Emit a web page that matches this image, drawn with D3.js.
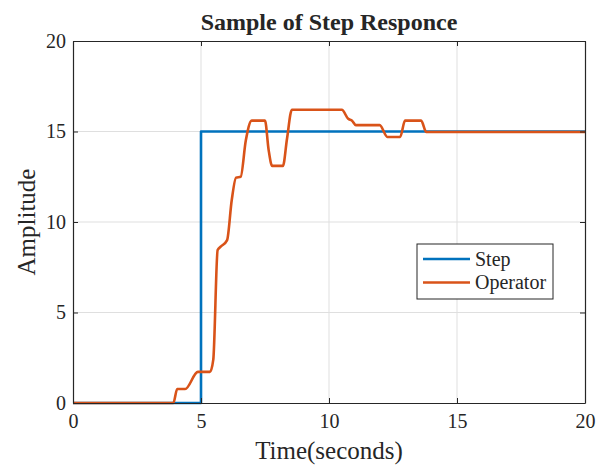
<!DOCTYPE html>
<html>
<head>
<meta charset="utf-8">
<script src="https://cdn.jsdelivr.net/npm/d3@7"></script>
<style>
  html, body { margin: 0; padding: 0; background: #fff; }
  svg { display: block; }
  text { font-family: "Liberation Serif", "Times New Roman", serif; fill: #262626; }
</style>
</head>
<body>
<svg id="chart" width="601" height="466"></svg>
<script>
// Step input
const stepTime = [0, 5, 5, 20];
const stepValue = [0, 0, 15, 15];

// Operator response
const opTime = [0, 3.92, 4.07, 4.38, 4.88, 5.35, 5.48, 5.65, 5.78, 6.02, 6.2, 6.37, 6.55, 6.75, 6.98, 7.5, 7.64, 7.78, 8.2, 8.36, 8.55, 10.5, 10.75, 10.9, 11.05, 11.98, 12.28, 12.78, 12.97, 13.6, 13.8, 20];
const opValue = [0, 0, 0.77, 0.77, 1.72, 1.72, 2.4, 8.45, 8.65, 9.0, 11.2, 12.45, 12.5, 14.5, 15.6, 15.6, 14.0, 13.1, 13.1, 14.6, 16.2, 16.2, 15.7, 15.6, 15.35, 15.35, 14.7, 14.7, 15.6, 15.6, 14.97, 14.97];

const xTicks = [0, 5, 10, 15, 20];
const yTicks = [0, 5, 10, 15, 20];
const seriesNames = ["Step", "Operator"];
const seriesColors = ["#0072BD", "#D95319"];

const svg = d3.select("#chart");
const m = { left: 73, right: 585, top: 41, bottom: 403 };

const x = d3.scaleLinear().domain([0, 20]).range([m.left, m.right]);
const y = d3.scaleLinear().domain([0, 20]).range([m.bottom, m.top]);

// grid
const grid = svg.append("g");
grid.selectAll(".gx").data(xTicks.slice(1, -1)).join("line")
  .attr("x1", d => x(d)).attr("x2", d => x(d))
  .attr("y1", m.top).attr("y2", m.bottom)
  .attr("stroke", "#dfdfdf").attr("stroke-width", 1);
grid.selectAll(".gy").data(yTicks.slice(1, -1)).join("line")
  .attr("y1", d => y(d)).attr("y2", d => y(d))
  .attr("x1", m.left).attr("x2", m.right)
  .attr("stroke", "#dfdfdf").attr("stroke-width", 1);

// series
const stepPts = stepTime.map((t, i) => [t, stepValue[i]]);
const opPts = opTime.map((t, i) => [t, opValue[i]]);

svg.append("path").datum(stepPts)
  .attr("d", d3.line().x(d => x(d[0])).y(d => y(d[1])))
  .attr("fill", "none").attr("stroke", seriesColors[0]).attr("stroke-width", 2.6)
  .attr("stroke-linejoin", "round");

svg.append("path").datum(opPts)
  .attr("d", d3.line().x(d => x(d[0])).y(d => y(d[1])).curve(d3.curveMonotoneX))
  .attr("fill", "none").attr("stroke", seriesColors[1]).attr("stroke-width", 2.6)
  .attr("stroke-linejoin", "round");

// axes box with inward ticks
const axisColor = "#262626";
const xAxisB = d3.axisBottom(x).tickValues(xTicks).tickSizeInner(-5).tickSizeOuter(0).tickPadding(11);
const xAxisT = d3.axisTop(x).tickValues(xTicks).tickSizeInner(-5).tickSizeOuter(0).tickFormat("");
const yAxisL = d3.axisLeft(y).tickValues(yTicks).tickSizeInner(-5).tickSizeOuter(0).tickPadding(7);
const yAxisR = d3.axisRight(y).tickValues(yTicks).tickSizeInner(-5).tickSizeOuter(0).tickFormat("");

function style(g) {
  g.selectAll("path").attr("stroke", axisColor).attr("stroke-width", 1.2);
  g.selectAll("line").attr("stroke", axisColor);
  g.selectAll("text").attr("font-family", "Liberation Serif").attr("font-size", 20).attr("fill", axisColor);
}
svg.append("g").attr("transform", `translate(0,${m.bottom})`).call(xAxisB).call(style);
svg.append("g").attr("transform", `translate(0,${m.top})`).call(xAxisT).call(style);
svg.append("g").attr("transform", `translate(${m.left},0)`).call(yAxisL).call(style);
svg.append("g").attr("transform", `translate(${m.right},0)`).call(yAxisR).call(style);

// title and labels
svg.append("text").attr("x", (m.left + m.right) / 2).attr("y", 30)
  .attr("text-anchor", "middle").attr("font-size", 24).attr("font-weight", "bold")
  .text("Sample of Step Responce");
svg.append("text").attr("x", (m.left + m.right) / 2).attr("y", 459)
  .attr("text-anchor", "middle").attr("font-size", 25)
  .text("Time(seconds)");
svg.append("text").attr("transform", `translate(35,${(m.top + m.bottom) / 2}) rotate(-90)`)
  .attr("text-anchor", "middle").attr("font-size", 25)
  .text("Amplitude");

// legend
const lg = svg.append("g").attr("transform", "translate(417,244)");
lg.append("rect").attr("width", 136).attr("height", 55)
  .attr("fill", "#fff").attr("stroke", axisColor).attr("stroke-width", 1);
seriesNames.forEach((name, i) => {
  const yy = 15 + i * 23.5;
  lg.append("line").attr("x1", 6).attr("x2", 53).attr("y1", yy).attr("y2", yy)
    .attr("stroke", seriesColors[i]).attr("stroke-width", 2.6);
  lg.append("text").attr("x", 58).attr("y", yy + 6.5).attr("font-size", 20).text(name);
});
</script>
</body>
</html>
